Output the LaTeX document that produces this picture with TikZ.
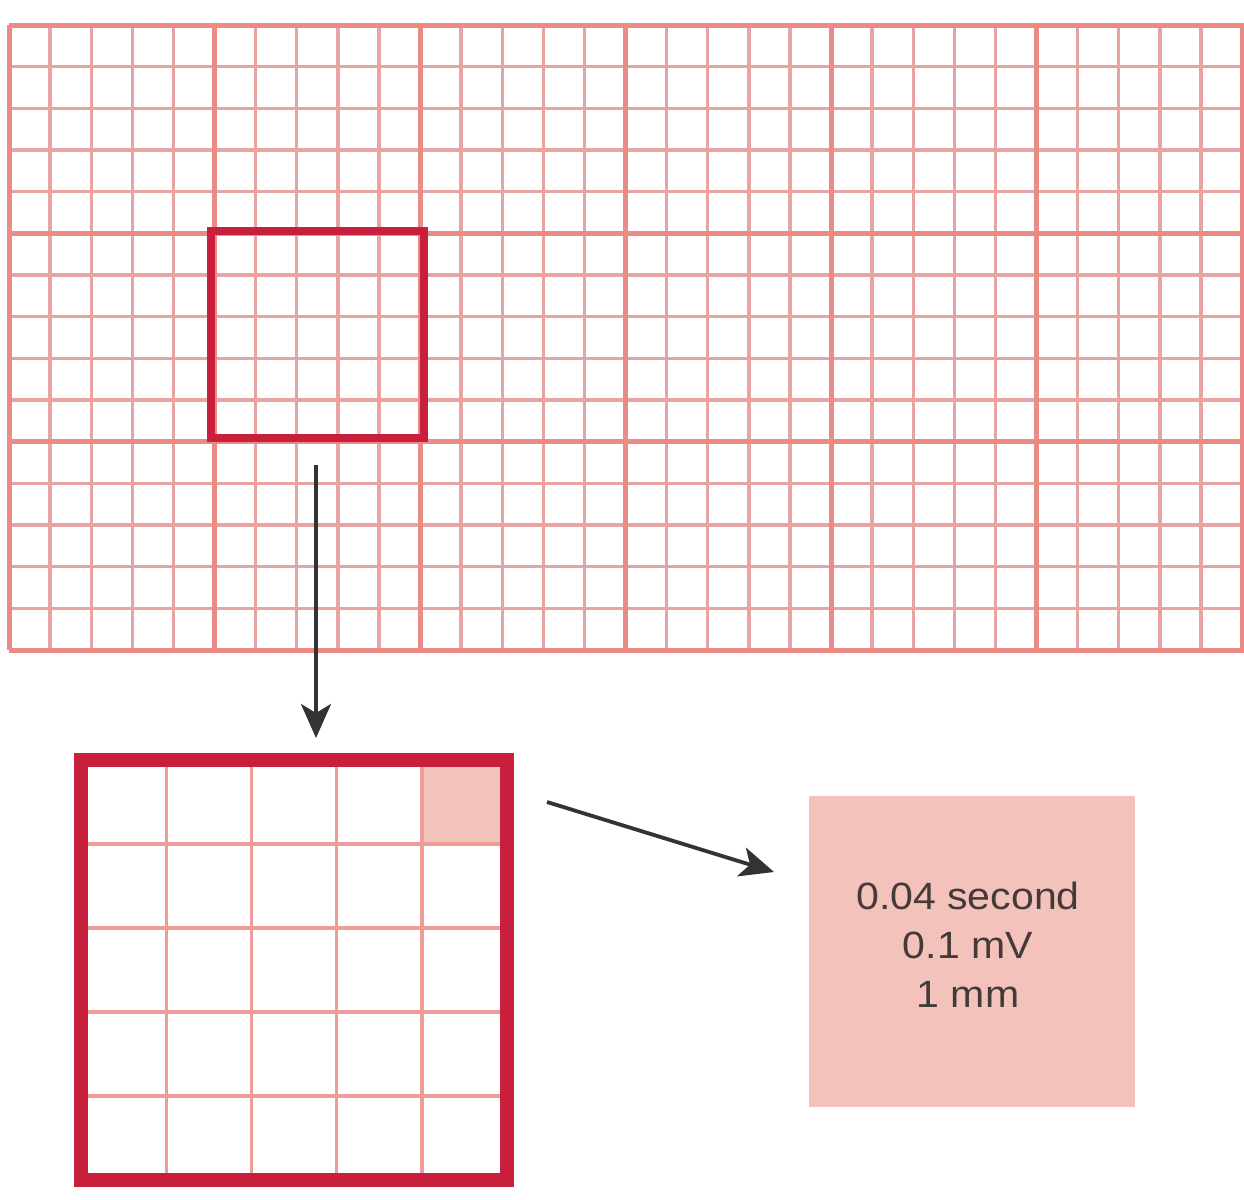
\documentclass[tikz,border=0pt]{standalone}
\usepackage{fontspec}
\newfontfamily\labfont[FakeStretch=1.08]{Liberation Sans}
\usetikzlibrary{arrows.meta}
\definecolor{gridthin}{HTML}{E6A4A2}
\definecolor{gridthick}{HTML}{EC8A86}
\definecolor{boxred}{HTML}{C81F3D}
\definecolor{cellpink}{HTML}{F3C3BB}
\definecolor{arrowgray}{HTML}{333333}
\definecolor{textgray}{HTML}{443A3A}
\tikzset{
  thinline/.style={draw=gridthin, line width=1.7pt},
  thickline/.style={draw=gridthick, line width=2.5pt},
  hilite/.style={draw=boxred, line width=4pt, rectangle, inner sep=0pt},
  bigframe/.style={draw=boxred, line width=7pt},
  zoomline/.style={draw=gridthick!85!white, line width=1.7pt},
  pointer/.style={draw=arrowgray, line width=1.9pt, -{Stealth[length=17pt, width=15pt, inset=4.5pt]}},
  unitbox/.style={rectangle, fill=cellpink, draw=none, minimum width=163pt, minimum height=155.5pt, inner sep=0pt},
  unitlabel/.style={align=center, text=textgray, font=\labfont\fontsize{19}{24.6}\selectfont}
}
\begin{document}
\begin{tikzpicture}[x=0.5pt, y=-0.5pt]
\useasboundingbox (0,0) rectangle (1244,1200);
% ---- large ECG grid ----
\foreach \i in {0,...,30} {
  \draw[thinline] ({9+\i*41.1},25) -- ({9+\i*41.1},650);
}
\foreach \j in {0,...,15} {
  \draw[thinline] (9,{25+\j*41.667}) -- (1244,{25+\j*41.667});
}
\foreach \i in {0,5,...,30} {
  \draw[thickline] ({9+\i*41.1},25) -- ({9+\i*41.1},650);
}
\foreach \j in {0,5,...,15} {
  \draw[thickline] (9,{25+\j*41.667}) -- (1244,{25+\j*41.667});
}
% ---- highlighted large square ----
\node[hilite, minimum width=106.5pt, minimum height=103.5pt] (sel) at (317.5,334.5) {};
% ---- enlarged square ----
\fill[cellpink] (421.8,760) rectangle (507,844);
\foreach \i in {1,...,4} {
  \draw[zoomline] ({81+\i*85.2},766) -- ({81+\i*85.2},1176);
  \draw[zoomline] (86,{760+\i*84}) -- (503,{760+\i*84});
}
\draw[bigframe] (81,760) rectangle (507,1180);
\coordinate (zoomtop) at (316,738);
\coordinate (zoomright) at (547,802);
% ---- unit box ----
\node[unitbox] (unit) at (972,951) {};
\node[unitlabel] (unittext) at (968,945) {0.04 second\\0.1 mV\\1 mm};
\coordinate (unitleft) at (774,872);
% ---- arrows ----
\coordinate (selbelow) at (316,465);
\draw[pointer] (selbelow) -- (zoomtop);
\draw[pointer] (zoomright) -- (unitleft);
\end{tikzpicture}
\end{document}
